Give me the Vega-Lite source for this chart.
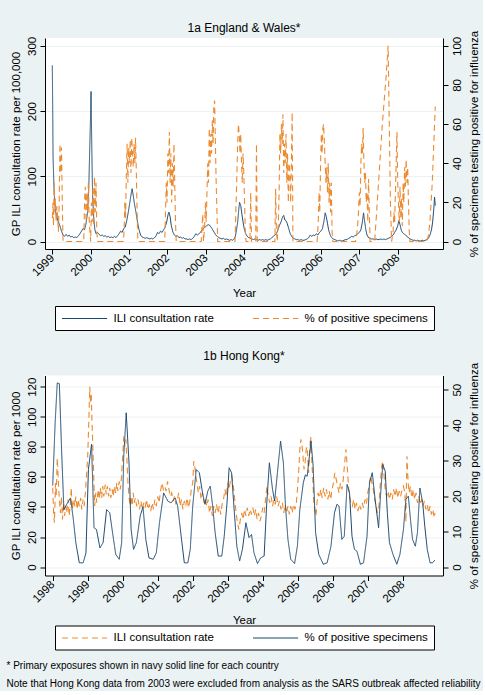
{
  "$schema": "https://vega.github.io/schema/vega-lite/v6.json",
  "background": "#eaf2f3",
  "padding": {"left": 6, "top": 21, "right": 2, "bottom": 2},
  "title": {
    "text": ["* Primary exposures shown in navy solid line for each country", "Note that Hong Kong data from 2003 were excluded from analysis as the SARS outbreak affected reliability"],
    "orient": "bottom", "anchor": "start", "frame": "bounds", "fontSize": 10, "lineHeight": 18, "offset": 11, "dx": -3.5
  },
  "datasets": {
    "ew_ili": [
      {"t":1999.00,"v":270,"s":"ili"},{"t":1999.01,"v":210,"s":"ili"},{"t":1999.02,"v":130,"s":"ili"},{"t":1999.04,"v":90,"s":"ili"},{"t":1999.06,"v":60,"s":"ili"},{"t":1999.09,"v":45,"s":"ili"},{"t":1999.12,"v":38,"s":"ili"},{"t":1999.16,"v":30,"s":"ili"},{"t":1999.2,"v":24,"s":"ili"},{"t":1999.24,"v":16,"s":"ili"},{"t":1999.28,"v":10,"s":"ili"},{"t":1999.32,"v":8,"s":"ili"},{"t":1999.36,"v":11,"s":"ili"},{"t":1999.4,"v":8,"s":"ili"},{"t":1999.44,"v":10,"s":"ili"},{"t":1999.48,"v":7,"s":"ili"},{"t":1999.52,"v":8,"s":"ili"},{"t":1999.56,"v":6,"s":"ili"},{"t":1999.6,"v":7,"s":"ili"},{"t":1999.64,"v":6,"s":"ili"},{"t":1999.68,"v":9,"s":"ili"},{"t":1999.72,"v":12,"s":"ili"},{"t":1999.76,"v":16,"s":"ili"},{"t":1999.8,"v":20,"s":"ili"},{"t":1999.84,"v":18,"s":"ili"},{"t":1999.88,"v":28,"s":"ili"},{"t":1999.92,"v":45,"s":"ili"},{"t":1999.95,"v":80,"s":"ili"},{"t":1999.97,"v":130,"s":"ili"},{"t":1999.99,"v":175,"s":"ili"},{"t":2000.01,"v":230,"s":"ili"},{"t":2000.03,"v":140,"s":"ili"},{"t":2000.05,"v":70,"s":"ili"},{"t":2000.08,"v":35,"s":"ili"},{"t":2000.11,"v":18,"s":"ili"},{"t":2000.14,"v":12,"s":"ili"},{"t":2000.18,"v":14,"s":"ili"},{"t":2000.22,"v":11,"s":"ili"},{"t":2000.26,"v":9,"s":"ili"},{"t":2000.3,"v":10,"s":"ili"},{"t":2000.34,"v":8,"s":"ili"},{"t":2000.38,"v":9,"s":"ili"},{"t":2000.42,"v":7,"s":"ili"},{"t":2000.46,"v":8,"s":"ili"},{"t":2000.5,"v":6,"s":"ili"},{"t":2000.54,"v":7,"s":"ili"},{"t":2000.58,"v":6,"s":"ili"},{"t":2000.62,"v":8,"s":"ili"},{"t":2000.66,"v":6,"s":"ili"},{"t":2000.7,"v":9,"s":"ili"},{"t":2000.74,"v":12,"s":"ili"},{"t":2000.78,"v":16,"s":"ili"},{"t":2000.82,"v":14,"s":"ili"},{"t":2000.86,"v":20,"s":"ili"},{"t":2000.9,"v":22,"s":"ili"},{"t":2000.94,"v":32,"s":"ili"},{"t":2000.98,"v":45,"s":"ili"},{"t":2001.02,"v":60,"s":"ili"},{"t":2001.06,"v":75,"s":"ili"},{"t":2001.08,"v":81,"s":"ili"},{"t":2001.11,"v":70,"s":"ili"},{"t":2001.14,"v":58,"s":"ili"},{"t":2001.18,"v":45,"s":"ili"},{"t":2001.22,"v":30,"s":"ili"},{"t":2001.26,"v":18,"s":"ili"},{"t":2001.3,"v":10,"s":"ili"},{"t":2001.34,"v":7,"s":"ili"},{"t":2001.38,"v":6,"s":"ili"},{"t":2001.42,"v":5,"s":"ili"},{"t":2001.46,"v":6,"s":"ili"},{"t":2001.5,"v":5,"s":"ili"},{"t":2001.54,"v":4,"s":"ili"},{"t":2001.58,"v":5,"s":"ili"},{"t":2001.62,"v":4,"s":"ili"},{"t":2001.66,"v":6,"s":"ili"},{"t":2001.7,"v":8,"s":"ili"},{"t":2001.74,"v":14,"s":"ili"},{"t":2001.78,"v":12,"s":"ili"},{"t":2001.82,"v":16,"s":"ili"},{"t":2001.86,"v":14,"s":"ili"},{"t":2001.9,"v":18,"s":"ili"},{"t":2001.94,"v":22,"s":"ili"},{"t":2001.98,"v":30,"s":"ili"},{"t":2002.02,"v":42,"s":"ili"},{"t":2002.04,"v":45,"s":"ili"},{"t":2002.07,"v":38,"s":"ili"},{"t":2002.1,"v":25,"s":"ili"},{"t":2002.14,"v":15,"s":"ili"},{"t":2002.18,"v":10,"s":"ili"},{"t":2002.22,"v":8,"s":"ili"},{"t":2002.26,"v":9,"s":"ili"},{"t":2002.3,"v":6,"s":"ili"},{"t":2002.34,"v":7,"s":"ili"},{"t":2002.38,"v":5,"s":"ili"},{"t":2002.42,"v":6,"s":"ili"},{"t":2002.46,"v":4,"s":"ili"},{"t":2002.5,"v":4,"s":"ili"},{"t":2002.54,"v":3,"s":"ili"},{"t":2002.58,"v":4,"s":"ili"},{"t":2002.62,"v":3,"s":"ili"},{"t":2002.66,"v":5,"s":"ili"},{"t":2002.7,"v":8,"s":"ili"},{"t":2002.74,"v":12,"s":"ili"},{"t":2002.78,"v":10,"s":"ili"},{"t":2002.82,"v":12,"s":"ili"},{"t":2002.86,"v":14,"s":"ili"},{"t":2002.9,"v":18,"s":"ili"},{"t":2002.94,"v":20,"s":"ili"},{"t":2002.98,"v":22,"s":"ili"},{"t":2003.02,"v":24,"s":"ili"},{"t":2003.06,"v":26,"s":"ili"},{"t":2003.1,"v":25,"s":"ili"},{"t":2003.14,"v":22,"s":"ili"},{"t":2003.18,"v":18,"s":"ili"},{"t":2003.22,"v":14,"s":"ili"},{"t":2003.26,"v":10,"s":"ili"},{"t":2003.3,"v":8,"s":"ili"},{"t":2003.34,"v":6,"s":"ili"},{"t":2003.38,"v":5,"s":"ili"},{"t":2003.42,"v":4,"s":"ili"},{"t":2003.46,"v":5,"s":"ili"},{"t":2003.5,"v":3,"s":"ili"},{"t":2003.54,"v":4,"s":"ili"},{"t":2003.58,"v":3,"s":"ili"},{"t":2003.62,"v":2,"s":"ili"},{"t":2003.66,"v":3,"s":"ili"},{"t":2003.7,"v":2,"s":"ili"},{"t":2003.74,"v":4,"s":"ili"},{"t":2003.77,"v":8,"s":"ili"},{"t":2003.8,"v":18,"s":"ili"},{"t":2003.83,"v":30,"s":"ili"},{"t":2003.86,"v":50,"s":"ili"},{"t":2003.88,"v":60,"s":"ili"},{"t":2003.91,"v":55,"s":"ili"},{"t":2003.94,"v":42,"s":"ili"},{"t":2003.97,"v":30,"s":"ili"},{"t":2004.0,"v":20,"s":"ili"},{"t":2004.04,"v":12,"s":"ili"},{"t":2004.08,"v":8,"s":"ili"},{"t":2004.12,"v":6,"s":"ili"},{"t":2004.16,"v":5,"s":"ili"},{"t":2004.2,"v":4,"s":"ili"},{"t":2004.24,"v":3,"s":"ili"},{"t":2004.28,"v":4,"s":"ili"},{"t":2004.32,"v":3,"s":"ili"},{"t":2004.36,"v":2,"s":"ili"},{"t":2004.4,"v":3,"s":"ili"},{"t":2004.44,"v":2,"s":"ili"},{"t":2004.48,"v":3,"s":"ili"},{"t":2004.52,"v":2,"s":"ili"},{"t":2004.56,"v":3,"s":"ili"},{"t":2004.6,"v":2,"s":"ili"},{"t":2004.64,"v":3,"s":"ili"},{"t":2004.68,"v":4,"s":"ili"},{"t":2004.72,"v":6,"s":"ili"},{"t":2004.76,"v":8,"s":"ili"},{"t":2004.8,"v":10,"s":"ili"},{"t":2004.84,"v":12,"s":"ili"},{"t":2004.88,"v":18,"s":"ili"},{"t":2004.92,"v":25,"s":"ili"},{"t":2004.96,"v":30,"s":"ili"},{"t":2005.0,"v":38,"s":"ili"},{"t":2005.03,"v":40,"s":"ili"},{"t":2005.06,"v":33,"s":"ili"},{"t":2005.09,"v":32,"s":"ili"},{"t":2005.12,"v":28,"s":"ili"},{"t":2005.16,"v":20,"s":"ili"},{"t":2005.2,"v":12,"s":"ili"},{"t":2005.24,"v":8,"s":"ili"},{"t":2005.28,"v":5,"s":"ili"},{"t":2005.32,"v":4,"s":"ili"},{"t":2005.36,"v":3,"s":"ili"},{"t":2005.4,"v":3,"s":"ili"},{"t":2005.44,"v":2,"s":"ili"},{"t":2005.48,"v":3,"s":"ili"},{"t":2005.52,"v":2,"s":"ili"},{"t":2005.56,"v":2,"s":"ili"},{"t":2005.6,"v":3,"s":"ili"},{"t":2005.64,"v":4,"s":"ili"},{"t":2005.68,"v":6,"s":"ili"},{"t":2005.72,"v":10,"s":"ili"},{"t":2005.76,"v":8,"s":"ili"},{"t":2005.8,"v":10,"s":"ili"},{"t":2005.84,"v":9,"s":"ili"},{"t":2005.88,"v":12,"s":"ili"},{"t":2005.92,"v":10,"s":"ili"},{"t":2005.96,"v":14,"s":"ili"},{"t":2006.0,"v":16,"s":"ili"},{"t":2006.04,"v":20,"s":"ili"},{"t":2006.08,"v":32,"s":"ili"},{"t":2006.11,"v":44,"s":"ili"},{"t":2006.14,"v":38,"s":"ili"},{"t":2006.17,"v":28,"s":"ili"},{"t":2006.2,"v":18,"s":"ili"},{"t":2006.24,"v":10,"s":"ili"},{"t":2006.28,"v":6,"s":"ili"},{"t":2006.32,"v":4,"s":"ili"},{"t":2006.36,"v":3,"s":"ili"},{"t":2006.4,"v":2,"s":"ili"},{"t":2006.44,"v":1,"s":"ili"},{"t":2006.48,"v":2,"s":"ili"},{"t":2006.52,"v":1,"s":"ili"},{"t":2006.56,"v":1,"s":"ili"},{"t":2006.6,"v":2,"s":"ili"},{"t":2006.64,"v":3,"s":"ili"},{"t":2006.68,"v":3,"s":"ili"},{"t":2006.72,"v":5,"s":"ili"},{"t":2006.76,"v":6,"s":"ili"},{"t":2006.8,"v":8,"s":"ili"},{"t":2006.84,"v":7,"s":"ili"},{"t":2006.88,"v":9,"s":"ili"},{"t":2006.92,"v":10,"s":"ili"},{"t":2006.96,"v":12,"s":"ili"},{"t":2007.0,"v":14,"s":"ili"},{"t":2007.04,"v":18,"s":"ili"},{"t":2007.08,"v":30,"s":"ili"},{"t":2007.11,"v":44,"s":"ili"},{"t":2007.14,"v":30,"s":"ili"},{"t":2007.17,"v":18,"s":"ili"},{"t":2007.2,"v":10,"s":"ili"},{"t":2007.24,"v":6,"s":"ili"},{"t":2007.28,"v":5,"s":"ili"},{"t":2007.32,"v":4,"s":"ili"},{"t":2007.36,"v":4,"s":"ili"},{"t":2007.4,"v":3,"s":"ili"},{"t":2007.44,"v":4,"s":"ili"},{"t":2007.48,"v":3,"s":"ili"},{"t":2007.52,"v":3,"s":"ili"},{"t":2007.56,"v":4,"s":"ili"},{"t":2007.6,"v":3,"s":"ili"},{"t":2007.64,"v":4,"s":"ili"},{"t":2007.68,"v":3,"s":"ili"},{"t":2007.72,"v":4,"s":"ili"},{"t":2007.76,"v":5,"s":"ili"},{"t":2007.8,"v":6,"s":"ili"},{"t":2007.84,"v":8,"s":"ili"},{"t":2007.88,"v":10,"s":"ili"},{"t":2007.92,"v":14,"s":"ili"},{"t":2007.96,"v":18,"s":"ili"},{"t":2008.0,"v":24,"s":"ili"},{"t":2008.03,"v":32,"s":"ili"},{"t":2008.06,"v":26,"s":"ili"},{"t":2008.09,"v":18,"s":"ili"},{"t":2008.12,"v":14,"s":"ili"},{"t":2008.16,"v":12,"s":"ili"},{"t":2008.2,"v":10,"s":"ili"},{"t":2008.24,"v":8,"s":"ili"},{"t":2008.28,"v":6,"s":"ili"},{"t":2008.32,"v":4,"s":"ili"},{"t":2008.36,"v":3,"s":"ili"},{"t":2008.4,"v":2,"s":"ili"},{"t":2008.44,"v":2,"s":"ili"},{"t":2008.48,"v":1,"s":"ili"},{"t":2008.52,"v":2,"s":"ili"},{"t":2008.56,"v":1,"s":"ili"},{"t":2008.6,"v":1,"s":"ili"},{"t":2008.64,"v":2,"s":"ili"},{"t":2008.68,"v":1,"s":"ili"},{"t":2008.72,"v":2,"s":"ili"},{"t":2008.76,"v":3,"s":"ili"},{"t":2008.8,"v":5,"s":"ili"},{"t":2008.84,"v":10,"s":"ili"},{"t":2008.88,"v":18,"s":"ili"},{"t":2008.91,"v":30,"s":"ili"},{"t":2008.94,"v":50,"s":"ili"},{"t":2008.96,"v":68,"s":"ili"},{"t":2008.98,"v":55,"s":"ili"}
    ],
    "ew_pos": [
      {"t":1999.0,"v":12,"s":"pos"},{"t":1999.02,"v":20,"s":"pos"},{"t":1999.03,"v":8,"s":"pos"},{"t":1999.05,"v":30,"s":"pos"},{"t":1999.07,"v":15,"s":"pos"},{"t":1999.08,"v":22,"s":"pos"},{"t":1999.1,"v":10,"s":"pos"},{"t":1999.12,"v":18,"s":"pos"},{"t":1999.14,"v":12,"s":"pos"},{"t":1999.16,"v":5,"s":"pos"},{"t":1999.18,"v":20,"s":"pos"},{"t":1999.2,"v":50,"s":"pos"},{"t":1999.22,"v":35,"s":"pos"},{"t":1999.24,"v":48,"s":"pos"},{"t":1999.26,"v":20,"s":"pos"},{"t":1999.28,"v":0,"s":"pos"},{"t":1999.82,"v":0,"s":"pos"},{"t":1999.84,"v":20,"s":"pos"},{"t":1999.86,"v":28,"s":"pos"},{"t":1999.88,"v":10,"s":"pos"},{"t":1999.9,"v":25,"s":"pos"},{"t":1999.92,"v":15,"s":"pos"},{"t":1999.94,"v":30,"s":"pos"},{"t":1999.96,"v":12,"s":"pos"},{"t":1999.98,"v":5,"s":"pos"},{"t":2000.0,"v":0,"s":"pos"},{"t":2000.02,"v":20,"s":"pos"},{"t":2000.04,"v":10,"s":"pos"},{"t":2000.06,"v":28,"s":"pos"},{"t":2000.08,"v":8,"s":"pos"},{"t":2000.1,"v":33,"s":"pos"},{"t":2000.12,"v":15,"s":"pos"},{"t":2000.14,"v":30,"s":"pos"},{"t":2000.16,"v":5,"s":"pos"},{"t":2000.18,"v":0,"s":"pos"},{"t":2000.85,"v":0,"s":"pos"},{"t":2000.87,"v":5,"s":"pos"},{"t":2000.89,"v":20,"s":"pos"},{"t":2000.91,"v":12,"s":"pos"},{"t":2000.93,"v":35,"s":"pos"},{"t":2000.95,"v":50,"s":"pos"},{"t":2000.97,"v":30,"s":"pos"},{"t":2000.99,"v":48,"s":"pos"},{"t":2001.01,"v":40,"s":"pos"},{"t":2001.03,"v":52,"s":"pos"},{"t":2001.05,"v":35,"s":"pos"},{"t":2001.07,"v":53,"s":"pos"},{"t":2001.09,"v":45,"s":"pos"},{"t":2001.11,"v":38,"s":"pos"},{"t":2001.13,"v":50,"s":"pos"},{"t":2001.15,"v":40,"s":"pos"},{"t":2001.17,"v":53,"s":"pos"},{"t":2001.19,"v":35,"s":"pos"},{"t":2001.21,"v":15,"s":"pos"},{"t":2001.23,"v":0,"s":"pos"},{"t":2001.93,"v":0,"s":"pos"},{"t":2001.95,"v":15,"s":"pos"},{"t":2001.97,"v":30,"s":"pos"},{"t":2001.99,"v":20,"s":"pos"},{"t":2002.01,"v":45,"s":"pos"},{"t":2002.03,"v":35,"s":"pos"},{"t":2002.05,"v":56,"s":"pos"},{"t":2002.07,"v":30,"s":"pos"},{"t":2002.09,"v":45,"s":"pos"},{"t":2002.11,"v":20,"s":"pos"},{"t":2002.13,"v":40,"s":"pos"},{"t":2002.15,"v":28,"s":"pos"},{"t":2002.17,"v":50,"s":"pos"},{"t":2002.19,"v":30,"s":"pos"},{"t":2002.21,"v":10,"s":"pos"},{"t":2002.23,"v":0,"s":"pos"},{"t":2002.88,"v":0,"s":"pos"},{"t":2002.92,"v":14,"s":"pos"},{"t":2002.94,"v":0,"s":"pos"},{"t":2002.97,"v":8,"s":"pos"},{"t":2002.99,"v":20,"s":"pos"},{"t":2003.01,"v":10,"s":"pos"},{"t":2003.03,"v":25,"s":"pos"},{"t":2003.05,"v":40,"s":"pos"},{"t":2003.07,"v":30,"s":"pos"},{"t":2003.09,"v":58,"s":"pos"},{"t":2003.11,"v":40,"s":"pos"},{"t":2003.13,"v":55,"s":"pos"},{"t":2003.15,"v":45,"s":"pos"},{"t":2003.17,"v":62,"s":"pos"},{"t":2003.19,"v":50,"s":"pos"},{"t":2003.21,"v":70,"s":"pos"},{"t":2003.23,"v":72,"s":"pos"},{"t":2003.25,"v":50,"s":"pos"},{"t":2003.27,"v":30,"s":"pos"},{"t":2003.29,"v":15,"s":"pos"},{"t":2003.31,"v":0,"s":"pos"},{"t":2003.76,"v":0,"s":"pos"},{"t":2003.79,"v":20,"s":"pos"},{"t":2003.81,"v":35,"s":"pos"},{"t":2003.83,"v":50,"s":"pos"},{"t":2003.85,"v":60,"s":"pos"},{"t":2003.87,"v":55,"s":"pos"},{"t":2003.89,"v":45,"s":"pos"},{"t":2003.91,"v":55,"s":"pos"},{"t":2003.93,"v":40,"s":"pos"},{"t":2003.95,"v":30,"s":"pos"},{"t":2003.97,"v":45,"s":"pos"},{"t":2003.99,"v":35,"s":"pos"},{"t":2004.01,"v":20,"s":"pos"},{"t":2004.03,"v":5,"s":"pos"},{"t":2004.05,"v":0,"s":"pos"},{"t":2004.15,"v":0,"s":"pos"},{"t":2004.17,"v":25,"s":"pos"},{"t":2004.19,"v":0,"s":"pos"},{"t":2004.3,"v":0,"s":"pos"},{"t":2004.32,"v":50,"s":"pos"},{"t":2004.34,"v":0,"s":"pos"},{"t":2004.8,"v":0,"s":"pos"},{"t":2004.82,"v":27,"s":"pos"},{"t":2004.84,"v":5,"s":"pos"},{"t":2004.86,"v":0,"s":"pos"},{"t":2004.89,"v":10,"s":"pos"},{"t":2004.91,"v":25,"s":"pos"},{"t":2004.93,"v":55,"s":"pos"},{"t":2004.95,"v":45,"s":"pos"},{"t":2004.97,"v":60,"s":"pos"},{"t":2004.99,"v":50,"s":"pos"},{"t":2005.01,"v":65,"s":"pos"},{"t":2005.03,"v":35,"s":"pos"},{"t":2005.05,"v":50,"s":"pos"},{"t":2005.07,"v":40,"s":"pos"},{"t":2005.09,"v":55,"s":"pos"},{"t":2005.11,"v":30,"s":"pos"},{"t":2005.13,"v":45,"s":"pos"},{"t":2005.15,"v":20,"s":"pos"},{"t":2005.17,"v":40,"s":"pos"},{"t":2005.19,"v":35,"s":"pos"},{"t":2005.21,"v":20,"s":"pos"},{"t":2005.23,"v":40,"s":"pos"},{"t":2005.25,"v":66,"s":"pos"},{"t":2005.27,"v":0,"s":"pos"},{"t":2005.9,"v":0,"s":"pos"},{"t":2005.93,"v":10,"s":"pos"},{"t":2005.95,"v":25,"s":"pos"},{"t":2005.97,"v":15,"s":"pos"},{"t":2005.99,"v":40,"s":"pos"},{"t":2006.01,"v":55,"s":"pos"},{"t":2006.03,"v":45,"s":"pos"},{"t":2006.05,"v":58,"s":"pos"},{"t":2006.07,"v":60,"s":"pos"},{"t":2006.09,"v":50,"s":"pos"},{"t":2006.11,"v":40,"s":"pos"},{"t":2006.13,"v":30,"s":"pos"},{"t":2006.15,"v":38,"s":"pos"},{"t":2006.17,"v":25,"s":"pos"},{"t":2006.19,"v":40,"s":"pos"},{"t":2006.21,"v":20,"s":"pos"},{"t":2006.23,"v":30,"s":"pos"},{"t":2006.25,"v":15,"s":"pos"},{"t":2006.27,"v":30,"s":"pos"},{"t":2006.29,"v":5,"s":"pos"},{"t":2006.31,"v":0,"s":"pos"},{"t":2006.9,"v":0,"s":"pos"},{"t":2006.94,"v":5,"s":"pos"},{"t":2006.97,"v":12,"s":"pos"},{"t":2007.0,"v":25,"s":"pos"},{"t":2007.02,"v":18,"s":"pos"},{"t":2007.04,"v":40,"s":"pos"},{"t":2007.06,"v":50,"s":"pos"},{"t":2007.08,"v":45,"s":"pos"},{"t":2007.1,"v":58,"s":"pos"},{"t":2007.12,"v":40,"s":"pos"},{"t":2007.14,"v":30,"s":"pos"},{"t":2007.16,"v":35,"s":"pos"},{"t":2007.18,"v":20,"s":"pos"},{"t":2007.2,"v":25,"s":"pos"},{"t":2007.22,"v":10,"s":"pos"},{"t":2007.24,"v":32,"s":"pos"},{"t":2007.26,"v":15,"s":"pos"},{"t":2007.28,"v":0,"s":"pos"},{"t":2007.4,"v":0,"s":"pos"},{"t":2007.5,"v":30,"s":"pos"},{"t":2007.6,"v":60,"s":"pos"},{"t":2007.7,"v":85,"s":"pos"},{"t":2007.75,"v":100,"s":"pos"},{"t":2007.78,"v":60,"s":"pos"},{"t":2007.81,"v":20,"s":"pos"},{"t":2007.84,"v":0,"s":"pos"},{"t":2007.88,"v":5,"s":"pos"},{"t":2007.9,"v":15,"s":"pos"},{"t":2007.92,"v":10,"s":"pos"},{"t":2007.94,"v":25,"s":"pos"},{"t":2007.96,"v":40,"s":"pos"},{"t":2007.98,"v":56,"s":"pos"},{"t":2008.0,"v":30,"s":"pos"},{"t":2008.02,"v":20,"s":"pos"},{"t":2008.04,"v":10,"s":"pos"},{"t":2008.06,"v":28,"s":"pos"},{"t":2008.08,"v":12,"s":"pos"},{"t":2008.1,"v":22,"s":"pos"},{"t":2008.12,"v":8,"s":"pos"},{"t":2008.14,"v":30,"s":"pos"},{"t":2008.16,"v":20,"s":"pos"},{"t":2008.18,"v":38,"s":"pos"},{"t":2008.2,"v":28,"s":"pos"},{"t":2008.22,"v":42,"s":"pos"},{"t":2008.24,"v":30,"s":"pos"},{"t":2008.26,"v":38,"s":"pos"},{"t":2008.28,"v":20,"s":"pos"},{"t":2008.3,"v":5,"s":"pos"},{"t":2008.32,"v":0,"s":"pos"},{"t":2008.75,"v":0,"s":"pos"},{"t":2008.8,"v":3,"s":"pos"},{"t":2008.84,"v":10,"s":"pos"},{"t":2008.87,"v":20,"s":"pos"},{"t":2008.9,"v":30,"s":"pos"},{"t":2008.93,"v":45,"s":"pos"},{"t":2008.96,"v":60,"s":"pos"},{"t":2008.98,"v":69,"s":"pos"}
    ],
    "hk_ili": [
      {"t":1998.0,"v":52.8,"s":"ili"},{"t":1998.03,"v":34,"s":"ili"},{"t":1998.05,"v":29.5,"s":"ili"},{"t":1998.08,"v":56,"s":"ili"},{"t":1998.1,"v":47,"s":"ili"},{"t":1998.13,"v":72.7,"s":"ili"},{"t":1998.16,"v":58,"s":"ili"},{"t":1998.19,"v":45,"s":"ili"},{"t":1998.22,"v":36,"s":"ili"},{"t":1998.25,"v":47,"s":"ili"},{"t":1998.28,"v":31.7,"s":"ili"},{"t":1998.31,"v":42.8,"s":"ili"},{"t":1998.34,"v":34,"s":"ili"},{"t":1998.37,"v":40.6,"s":"ili"},{"t":1998.4,"v":36,"s":"ili"},{"t":1998.44,"v":45,"s":"ili"},{"t":1998.47,"v":34,"s":"ili"},{"t":1998.5,"v":40.6,"s":"ili"},{"t":1998.53,"v":52.8,"s":"ili"},{"t":1998.56,"v":38.4,"s":"ili"},{"t":1998.6,"v":45,"s":"ili"},{"t":1998.63,"v":40.6,"s":"ili"},{"t":1998.66,"v":47,"s":"ili"},{"t":1998.7,"v":38.4,"s":"ili"},{"t":1998.73,"v":45,"s":"ili"},{"t":1998.76,"v":40.6,"s":"ili"},{"t":1998.8,"v":46,"s":"ili"},{"t":1998.83,"v":38.4,"s":"ili"},{"t":1998.87,"v":45,"s":"ili"},{"t":1998.9,"v":40.6,"s":"ili"},{"t":1998.94,"v":51.7,"s":"ili"},{"t":1998.97,"v":62.7,"s":"ili"},{"t":1999.0,"v":73.8,"s":"ili"},{"t":1999.03,"v":96,"s":"ili"},{"t":1999.06,"v":120,"s":"ili"},{"t":1999.08,"v":109,"s":"ili"},{"t":1999.1,"v":116,"s":"ili"},{"t":1999.12,"v":98,"s":"ili"},{"t":1999.15,"v":78,"s":"ili"},{"t":1999.18,"v":54,"s":"ili"},{"t":1999.2,"v":40.6,"s":"ili"},{"t":1999.23,"v":49.4,"s":"ili"},{"t":1999.26,"v":42.8,"s":"ili"},{"t":1999.3,"v":51.7,"s":"ili"},{"t":1999.33,"v":45,"s":"ili"},{"t":1999.36,"v":52.8,"s":"ili"},{"t":1999.4,"v":46,"s":"ili"},{"t":1999.43,"v":53.9,"s":"ili"},{"t":1999.46,"v":47,"s":"ili"},{"t":1999.5,"v":55,"s":"ili"},{"t":1999.53,"v":48.3,"s":"ili"},{"t":1999.56,"v":53.9,"s":"ili"},{"t":1999.6,"v":47,"s":"ili"},{"t":1999.63,"v":52.8,"s":"ili"},{"t":1999.66,"v":46,"s":"ili"},{"t":1999.7,"v":51.7,"s":"ili"},{"t":1999.73,"v":47,"s":"ili"},{"t":1999.76,"v":53.9,"s":"ili"},{"t":1999.8,"v":49.4,"s":"ili"},{"t":1999.83,"v":56,"s":"ili"},{"t":1999.86,"v":50.6,"s":"ili"},{"t":1999.9,"v":57,"s":"ili"},{"t":1999.93,"v":51.7,"s":"ili"},{"t":1999.96,"v":58,"s":"ili"},{"t":2000.0,"v":73.8,"s":"ili"},{"t":2000.03,"v":87,"s":"ili"},{"t":2000.06,"v":80.5,"s":"ili"},{"t":2000.09,"v":85,"s":"ili"},{"t":2000.12,"v":71.6,"s":"ili"},{"t":2000.15,"v":56,"s":"ili"},{"t":2000.18,"v":47,"s":"ili"},{"t":2000.21,"v":40.6,"s":"ili"},{"t":2000.24,"v":47,"s":"ili"},{"t":2000.27,"v":40.6,"s":"ili"},{"t":2000.3,"v":49.4,"s":"ili"},{"t":2000.33,"v":42.8,"s":"ili"},{"t":2000.36,"v":46,"s":"ili"},{"t":2000.4,"v":40.6,"s":"ili"},{"t":2000.44,"v":45,"s":"ili"},{"t":2000.48,"v":38.4,"s":"ili"},{"t":2000.52,"v":44,"s":"ili"},{"t":2000.56,"v":38.4,"s":"ili"},{"t":2000.6,"v":42.8,"s":"ili"},{"t":2000.64,"v":39.5,"s":"ili"},{"t":2000.68,"v":45,"s":"ili"},{"t":2000.72,"v":38.4,"s":"ili"},{"t":2000.76,"v":41.7,"s":"ili"},{"t":2000.8,"v":37.3,"s":"ili"},{"t":2000.84,"v":42.8,"s":"ili"},{"t":2000.88,"v":38.4,"s":"ili"},{"t":2000.92,"v":45,"s":"ili"},{"t":2000.96,"v":40.6,"s":"ili"},{"t":2001.0,"v":47,"s":"ili"},{"t":2001.04,"v":42.8,"s":"ili"},{"t":2001.08,"v":50.6,"s":"ili"},{"t":2001.12,"v":56,"s":"ili"},{"t":2001.16,"v":51.7,"s":"ili"},{"t":2001.2,"v":53.9,"s":"ili"},{"t":2001.24,"v":50.6,"s":"ili"},{"t":2001.28,"v":57,"s":"ili"},{"t":2001.32,"v":51.7,"s":"ili"},{"t":2001.36,"v":47,"s":"ili"},{"t":2001.4,"v":49.4,"s":"ili"},{"t":2001.44,"v":44,"s":"ili"},{"t":2001.48,"v":47,"s":"ili"},{"t":2001.52,"v":41.7,"s":"ili"},{"t":2001.56,"v":45,"s":"ili"},{"t":2001.6,"v":49.4,"s":"ili"},{"t":2001.64,"v":40.6,"s":"ili"},{"t":2001.68,"v":45,"s":"ili"},{"t":2001.72,"v":38.4,"s":"ili"},{"t":2001.76,"v":44,"s":"ili"},{"t":2001.8,"v":40.6,"s":"ili"},{"t":2001.84,"v":46,"s":"ili"},{"t":2001.88,"v":39.5,"s":"ili"},{"t":2001.92,"v":44,"s":"ili"},{"t":2001.96,"v":51.7,"s":"ili"},{"t":2002.0,"v":56,"s":"ili"},{"t":2002.03,"v":70.5,"s":"ili"},{"t":2002.06,"v":67,"s":"ili"},{"t":2002.09,"v":60.5,"s":"ili"},{"t":2002.12,"v":56,"s":"ili"},{"t":2002.16,"v":49.4,"s":"ili"},{"t":2002.2,"v":53.9,"s":"ili"},{"t":2002.24,"v":45,"s":"ili"},{"t":2002.28,"v":49.4,"s":"ili"},{"t":2002.32,"v":42.8,"s":"ili"},{"t":2002.36,"v":46,"s":"ili"},{"t":2002.4,"v":40.6,"s":"ili"},{"t":2002.44,"v":45,"s":"ili"},{"t":2002.48,"v":36,"s":"ili"},{"t":2002.52,"v":40.6,"s":"ili"},{"t":2002.56,"v":34,"s":"ili"},{"t":2002.6,"v":40.6,"s":"ili"},{"t":2002.64,"v":36,"s":"ili"},{"t":2002.68,"v":41.7,"s":"ili"},{"t":2002.72,"v":36,"s":"ili"},{"t":2002.76,"v":40.6,"s":"ili"},{"t":2002.8,"v":35,"s":"ili"},{"t":2002.84,"v":41.7,"s":"ili"},{"t":2002.88,"v":45,"s":"ili"},{"t":2002.92,"v":51.7,"s":"ili"},{"t":2002.96,"v":47,"s":"ili"},{"t":2003.0,"v":56,"s":"ili"},{"t":2003.04,"v":51.7,"s":"ili"},{"t":2003.08,"v":58.3,"s":"ili"},{"t":2003.12,"v":60.5,"s":"ili"},{"t":2003.16,"v":53.9,"s":"ili"},{"t":2003.2,"v":45,"s":"ili"},{"t":2003.24,"v":36,"s":"ili"},{"t":2003.28,"v":29.5,"s":"ili"},{"t":2003.32,"v":25,"s":"ili"},{"t":2003.36,"v":31.7,"s":"ili"},{"t":2003.4,"v":36,"s":"ili"},{"t":2003.44,"v":31.7,"s":"ili"},{"t":2003.48,"v":38.4,"s":"ili"},{"t":2003.52,"v":34,"s":"ili"},{"t":2003.56,"v":39.5,"s":"ili"},{"t":2003.6,"v":34,"s":"ili"},{"t":2003.64,"v":38.4,"s":"ili"},{"t":2003.68,"v":35,"s":"ili"},{"t":2003.72,"v":39.5,"s":"ili"},{"t":2003.76,"v":34,"s":"ili"},{"t":2003.8,"v":38.4,"s":"ili"},{"t":2003.84,"v":31.7,"s":"ili"},{"t":2003.88,"v":36,"s":"ili"},{"t":2003.92,"v":30.6,"s":"ili"},{"t":2003.96,"v":34,"s":"ili"},{"t":2004.0,"v":39.5,"s":"ili"},{"t":2004.04,"v":36,"s":"ili"},{"t":2004.08,"v":45,"s":"ili"},{"t":2004.12,"v":53.9,"s":"ili"},{"t":2004.16,"v":47,"s":"ili"},{"t":2004.2,"v":42.8,"s":"ili"},{"t":2004.24,"v":47,"s":"ili"},{"t":2004.28,"v":40.6,"s":"ili"},{"t":2004.32,"v":45,"s":"ili"},{"t":2004.36,"v":41.7,"s":"ili"},{"t":2004.4,"v":47,"s":"ili"},{"t":2004.44,"v":40.6,"s":"ili"},{"t":2004.48,"v":44,"s":"ili"},{"t":2004.52,"v":38.4,"s":"ili"},{"t":2004.56,"v":42.8,"s":"ili"},{"t":2004.6,"v":36,"s":"ili"},{"t":2004.64,"v":41.7,"s":"ili"},{"t":2004.68,"v":36,"s":"ili"},{"t":2004.72,"v":40.6,"s":"ili"},{"t":2004.76,"v":35,"s":"ili"},{"t":2004.8,"v":40.6,"s":"ili"},{"t":2004.84,"v":36,"s":"ili"},{"t":2004.88,"v":41.7,"s":"ili"},{"t":2004.92,"v":38.4,"s":"ili"},{"t":2004.96,"v":42.8,"s":"ili"},{"t":2005.0,"v":53.9,"s":"ili"},{"t":2005.03,"v":65,"s":"ili"},{"t":2005.06,"v":78.3,"s":"ili"},{"t":2005.09,"v":85,"s":"ili"},{"t":2005.12,"v":81.6,"s":"ili"},{"t":2005.15,"v":73.8,"s":"ili"},{"t":2005.18,"v":65,"s":"ili"},{"t":2005.21,"v":69.4,"s":"ili"},{"t":2005.24,"v":78.3,"s":"ili"},{"t":2005.27,"v":80,"s":"ili"},{"t":2005.31,"v":62.7,"s":"ili"},{"t":2005.35,"v":80.5,"s":"ili"},{"t":2005.37,"v":87,"s":"ili"},{"t":2005.4,"v":71.6,"s":"ili"},{"t":2005.43,"v":58.3,"s":"ili"},{"t":2005.46,"v":42.8,"s":"ili"},{"t":2005.49,"v":38.4,"s":"ili"},{"t":2005.52,"v":34,"s":"ili"},{"t":2005.55,"v":42.8,"s":"ili"},{"t":2005.58,"v":49.4,"s":"ili"},{"t":2005.62,"v":46,"s":"ili"},{"t":2005.66,"v":51.7,"s":"ili"},{"t":2005.7,"v":46,"s":"ili"},{"t":2005.74,"v":52.8,"s":"ili"},{"t":2005.78,"v":47,"s":"ili"},{"t":2005.82,"v":51.7,"s":"ili"},{"t":2005.86,"v":45,"s":"ili"},{"t":2005.9,"v":50.6,"s":"ili"},{"t":2005.94,"v":45,"s":"ili"},{"t":2005.98,"v":51.7,"s":"ili"},{"t":2006.02,"v":56,"s":"ili"},{"t":2006.06,"v":62.7,"s":"ili"},{"t":2006.1,"v":58.3,"s":"ili"},{"t":2006.14,"v":53.9,"s":"ili"},{"t":2006.18,"v":49.4,"s":"ili"},{"t":2006.22,"v":56,"s":"ili"},{"t":2006.26,"v":51.7,"s":"ili"},{"t":2006.3,"v":58.3,"s":"ili"},{"t":2006.34,"v":69.4,"s":"ili"},{"t":2006.38,"v":78.3,"s":"ili"},{"t":2006.42,"v":65,"s":"ili"},{"t":2006.45,"v":53.9,"s":"ili"},{"t":2006.48,"v":47,"s":"ili"},{"t":2006.52,"v":42.8,"s":"ili"},{"t":2006.56,"v":40.6,"s":"ili"},{"t":2006.6,"v":45,"s":"ili"},{"t":2006.64,"v":38.4,"s":"ili"},{"t":2006.68,"v":42.8,"s":"ili"},{"t":2006.72,"v":37.3,"s":"ili"},{"t":2006.76,"v":41.7,"s":"ili"},{"t":2006.8,"v":38.4,"s":"ili"},{"t":2006.84,"v":42.8,"s":"ili"},{"t":2006.88,"v":39.5,"s":"ili"},{"t":2006.92,"v":45,"s":"ili"},{"t":2006.96,"v":41.7,"s":"ili"},{"t":2007.0,"v":49.4,"s":"ili"},{"t":2007.04,"v":53.9,"s":"ili"},{"t":2007.08,"v":60.5,"s":"ili"},{"t":2007.12,"v":56,"s":"ili"},{"t":2007.16,"v":51.7,"s":"ili"},{"t":2007.2,"v":45,"s":"ili"},{"t":2007.24,"v":40.6,"s":"ili"},{"t":2007.28,"v":36,"s":"ili"},{"t":2007.32,"v":40.6,"s":"ili"},{"t":2007.36,"v":56,"s":"ili"},{"t":2007.4,"v":67.2,"s":"ili"},{"t":2007.43,"v":70.5,"s":"ili"},{"t":2007.46,"v":62.7,"s":"ili"},{"t":2007.5,"v":51.7,"s":"ili"},{"t":2007.54,"v":47,"s":"ili"},{"t":2007.58,"v":50.6,"s":"ili"},{"t":2007.62,"v":45,"s":"ili"},{"t":2007.66,"v":49.4,"s":"ili"},{"t":2007.7,"v":45,"s":"ili"},{"t":2007.74,"v":51.7,"s":"ili"},{"t":2007.78,"v":47,"s":"ili"},{"t":2007.82,"v":52.8,"s":"ili"},{"t":2007.86,"v":46,"s":"ili"},{"t":2007.9,"v":50.6,"s":"ili"},{"t":2007.94,"v":47,"s":"ili"},{"t":2007.98,"v":51.7,"s":"ili"},{"t":2008.02,"v":53.9,"s":"ili"},{"t":2008.06,"v":49.4,"s":"ili"},{"t":2008.09,"v":30,"s":"ili"},{"t":2008.12,"v":73.8,"s":"ili"},{"t":2008.15,"v":58.3,"s":"ili"},{"t":2008.18,"v":49.4,"s":"ili"},{"t":2008.22,"v":53.9,"s":"ili"},{"t":2008.26,"v":46,"s":"ili"},{"t":2008.3,"v":51.7,"s":"ili"},{"t":2008.34,"v":45,"s":"ili"},{"t":2008.38,"v":49.4,"s":"ili"},{"t":2008.42,"v":42.8,"s":"ili"},{"t":2008.46,"v":47,"s":"ili"},{"t":2008.5,"v":41.7,"s":"ili"},{"t":2008.54,"v":45,"s":"ili"},{"t":2008.58,"v":40.6,"s":"ili"},{"t":2008.62,"v":44,"s":"ili"},{"t":2008.66,"v":38.4,"s":"ili"},{"t":2008.7,"v":41.7,"s":"ili"},{"t":2008.74,"v":36,"s":"ili"},{"t":2008.78,"v":40.6,"s":"ili"},{"t":2008.82,"v":35,"s":"ili"},{"t":2008.86,"v":38.4,"s":"ili"},{"t":2008.9,"v":32.8,"s":"ili"},{"t":2008.92,"v":36,"s":"ili"}
    ],
    "hk_pos": [
      {"t":1998.0,"v":23,"s":"pos"},{"t":1998.07,"v":40.7,"s":"pos"},{"t":1998.13,"v":51.9,"s":"pos"},{"t":1998.19,"v":51.7,"s":"pos"},{"t":1998.26,"v":31.3,"s":"pos"},{"t":1998.32,"v":16.2,"s":"pos"},{"t":1998.4,"v":17.7,"s":"pos"},{"t":1998.51,"v":19.5,"s":"pos"},{"t":1998.59,"v":13.4,"s":"pos"},{"t":1998.66,"v":6.9,"s":"pos"},{"t":1998.76,"v":1.2,"s":"pos"},{"t":1998.87,"v":1.2,"s":"pos"},{"t":1998.95,"v":4,"s":"pos"},{"t":1999.02,"v":27.5,"s":"pos"},{"t":1999.11,"v":34.6,"s":"pos"},{"t":1999.18,"v":11.1,"s":"pos"},{"t":1999.25,"v":10.6,"s":"pos"},{"t":1999.35,"v":5.4,"s":"pos"},{"t":1999.44,"v":6.9,"s":"pos"},{"t":1999.54,"v":16.2,"s":"pos"},{"t":1999.63,"v":15.3,"s":"pos"},{"t":1999.71,"v":9.7,"s":"pos"},{"t":1999.8,"v":3.6,"s":"pos"},{"t":1999.9,"v":2.2,"s":"pos"},{"t":1999.97,"v":6.9,"s":"pos"},{"t":2000.03,"v":31.3,"s":"pos"},{"t":2000.1,"v":43.5,"s":"pos"},{"t":2000.18,"v":29.4,"s":"pos"},{"t":2000.24,"v":10.6,"s":"pos"},{"t":2000.31,"v":5,"s":"pos"},{"t":2000.39,"v":6.9,"s":"pos"},{"t":2000.5,"v":14.4,"s":"pos"},{"t":2000.58,"v":17,"s":"pos"},{"t":2000.66,"v":7.8,"s":"pos"},{"t":2000.75,"v":2.6,"s":"pos"},{"t":2000.87,"v":2.2,"s":"pos"},{"t":2000.96,"v":4,"s":"pos"},{"t":2001.05,"v":12.5,"s":"pos"},{"t":2001.17,"v":20.9,"s":"pos"},{"t":2001.29,"v":18.6,"s":"pos"},{"t":2001.38,"v":18.1,"s":"pos"},{"t":2001.5,"v":19.5,"s":"pos"},{"t":2001.57,"v":17.2,"s":"pos"},{"t":2001.62,"v":13,"s":"pos"},{"t":2001.67,"v":8.7,"s":"pos"},{"t":2001.76,"v":1.2,"s":"pos"},{"t":2001.86,"v":1.2,"s":"pos"},{"t":2001.93,"v":5,"s":"pos"},{"t":2002.0,"v":17.2,"s":"pos"},{"t":2002.1,"v":27.5,"s":"pos"},{"t":2002.19,"v":26.6,"s":"pos"},{"t":2002.28,"v":20.9,"s":"pos"},{"t":2002.35,"v":17.7,"s":"pos"},{"t":2002.43,"v":21.4,"s":"pos"},{"t":2002.5,"v":22.8,"s":"pos"},{"t":2002.57,"v":17.2,"s":"pos"},{"t":2002.64,"v":9.7,"s":"pos"},{"t":2002.73,"v":3.1,"s":"pos"},{"t":2002.83,"v":3.1,"s":"pos"},{"t":2002.9,"v":8.7,"s":"pos"},{"t":2002.98,"v":18.1,"s":"pos"},{"t":2003.04,"v":28,"s":"pos"},{"t":2003.11,"v":26.6,"s":"pos"},{"t":2003.19,"v":15.3,"s":"pos"},{"t":2003.26,"v":5.9,"s":"pos"},{"t":2003.34,"v":1.7,"s":"pos"},{"t":2003.42,"v":5,"s":"pos"},{"t":2003.52,"v":12.5,"s":"pos"},{"t":2003.61,"v":8.3,"s":"pos"},{"t":2003.68,"v":9.2,"s":"pos"},{"t":2003.75,"v":4,"s":"pos"},{"t":2003.85,"v":1,"s":"pos"},{"t":2003.94,"v":2.6,"s":"pos"},{"t":2004.04,"v":3.1,"s":"pos"},{"t":2004.11,"v":17.2,"s":"pos"},{"t":2004.19,"v":29.4,"s":"pos"},{"t":2004.28,"v":21.9,"s":"pos"},{"t":2004.34,"v":18.6,"s":"pos"},{"t":2004.42,"v":26.6,"s":"pos"},{"t":2004.51,"v":35.5,"s":"pos"},{"t":2004.59,"v":29.4,"s":"pos"},{"t":2004.65,"v":17.2,"s":"pos"},{"t":2004.72,"v":7.8,"s":"pos"},{"t":2004.8,"v":2.2,"s":"pos"},{"t":2004.91,"v":1,"s":"pos"},{"t":2004.99,"v":5.9,"s":"pos"},{"t":2005.06,"v":16.2,"s":"pos"},{"t":2005.16,"v":23.8,"s":"pos"},{"t":2005.22,"v":26,"s":"pos"},{"t":2005.27,"v":25.6,"s":"pos"},{"t":2005.33,"v":31,"s":"pos"},{"t":2005.38,"v":35.5,"s":"pos"},{"t":2005.44,"v":28.5,"s":"pos"},{"t":2005.51,"v":9.7,"s":"pos"},{"t":2005.6,"v":3.6,"s":"pos"},{"t":2005.73,"v":0.8,"s":"pos"},{"t":2005.84,"v":1.2,"s":"pos"},{"t":2005.95,"v":5.9,"s":"pos"},{"t":2006.05,"v":15.3,"s":"pos"},{"t":2006.12,"v":17.7,"s":"pos"},{"t":2006.18,"v":17.2,"s":"pos"},{"t":2006.26,"v":7.8,"s":"pos"},{"t":2006.33,"v":8.7,"s":"pos"},{"t":2006.41,"v":23.3,"s":"pos"},{"t":2006.48,"v":20.9,"s":"pos"},{"t":2006.55,"v":8.7,"s":"pos"},{"t":2006.62,"v":5,"s":"pos"},{"t":2006.69,"v":4.5,"s":"pos"},{"t":2006.79,"v":0.8,"s":"pos"},{"t":2006.88,"v":1.2,"s":"pos"},{"t":2006.98,"v":8.7,"s":"pos"},{"t":2007.05,"v":23.8,"s":"pos"},{"t":2007.13,"v":26.6,"s":"pos"},{"t":2007.21,"v":19.1,"s":"pos"},{"t":2007.31,"v":11.1,"s":"pos"},{"t":2007.37,"v":20.9,"s":"pos"},{"t":2007.43,"v":28.9,"s":"pos"},{"t":2007.5,"v":27,"s":"pos"},{"t":2007.56,"v":15.3,"s":"pos"},{"t":2007.62,"v":6.9,"s":"pos"},{"t":2007.72,"v":3.6,"s":"pos"},{"t":2007.83,"v":0.8,"s":"pos"},{"t":2007.92,"v":3.6,"s":"pos"},{"t":2008.02,"v":10.6,"s":"pos"},{"t":2008.09,"v":19.1,"s":"pos"},{"t":2008.16,"v":20,"s":"pos"},{"t":2008.23,"v":12.5,"s":"pos"},{"t":2008.28,"v":7.8,"s":"pos"},{"t":2008.36,"v":5.9,"s":"pos"},{"t":2008.42,"v":9.7,"s":"pos"},{"t":2008.49,"v":22.3,"s":"pos"},{"t":2008.57,"v":18.1,"s":"pos"},{"t":2008.63,"v":11.5,"s":"pos"},{"t":2008.7,"v":5,"s":"pos"},{"t":2008.78,"v":1.2,"s":"pos"},{"t":2008.85,"v":1.2,"s":"pos"},{"t":2008.92,"v":2,"s":"pos"}
    ]
  },
  "vconcat": [
    {
      "title": {"text": "1a England & Wales*", "offset": -4.5, "frame": "group"},
      "width": 398,
      "height": 211,
      "layer": [
        {
          "data": {"name": "ew_ili"},
          "mark": {"type": "line", "strokeWidth": 1},
          "encoding": {
            "x": {"field": "t", "type": "quantitative", "scale": {"domain": [1998.81, 2009.18], "nice": false, "zero": false},
                  "axis": {"title": "Year", "values": [1999,2000,2001,2002,2003,2004,2005,2006,2007,2008], "format": "d", "labelAngle": -45, "labelAlign": "right", "labelBaseline": "middle", "grid": false, "titlePadding": 10, "labelOverlap": false}},
            "y": {"field": "v", "type": "quantitative", "scale": {"domain": [-11.4, 312], "nice": false, "zero": false},
                  "axis": {"orient": "left", "title": "GP ILI consultation rate per 100,000", "values": [0,100,200,300], "grid": true, "labelAngle": 270, "labelAlign": "center", "labelBaseline": "bottom", "labelPadding": 3, "titlePadding": 5}},
            "color": {"field": "s", "type": "nominal", "scale": {"domain": ["ili","pos"], "range": ["#1a476f", "#ec8a30"]},
                      "legend": {"title": null, "offset": 5.5, "labelExpr": "datum.label == 'ili' ? 'ILI consultation rate' : '% of positive specimens'"}},
            "strokeDash": {"field": "s", "type": "nominal", "scale": {"domain": ["ili","pos"], "range": [[1,0],[6,4]]},
                      "legend": {"title": null, "offset": 5.5, "labelExpr": "datum.label == 'ili' ? 'ILI consultation rate' : '% of positive specimens'"}}
          }
        },
        {
          "data": {"name": "ew_pos"},
          "mark": {"type": "line", "strokeWidth": 1.1},
          "encoding": {
            "x": {"field": "t", "type": "quantitative", "axis": {"title": "Year", "values": [1999,2000,2001,2002,2003,2004,2005,2006,2007,2008], "format": "d", "labelAngle": -45, "labelAlign": "right", "labelBaseline": "middle", "grid": false, "titlePadding": 10, "labelOverlap": false}},
            "y": {"field": "v", "type": "quantitative", "scale": {"domain": [-3.8, 104], "nice": false, "zero": false},
                  "axis": {"orient": "right", "title": "% of specimens testing positive for influenza", "values": [0,20,40,60,80,100], "grid": false, "labelAngle": 270, "labelAlign": "center", "labelBaseline": "top", "labelPadding": 3, "titleAngle": 270, "titleBaseline": "top", "titlePadding": 6}},
            "color": {"field": "s", "type": "nominal", "legend": {"title": null, "offset": 5.5, "labelExpr": "datum.label == 'ili' ? 'ILI consultation rate' : '% of positive specimens'"}},
            "strokeDash": {"field": "s", "type": "nominal", "legend": {"title": null, "offset": 5.5, "labelExpr": "datum.label == 'ili' ? 'ILI consultation rate' : '% of positive specimens'"}}
          }
        }
      ],
      "resolve": {"scale": {"y": "independent"}, "axis": {"y": "independent"}}
    },
    {
      "title": {"text": "1b Hong Kong*", "offset": -1, "frame": "group"},
      "width": 398,
      "height": 200,
      "layer": [
        {
          "data": {"name": "hk_ili"},
          "mark": {"type": "line", "strokeWidth": 1.1},
          "encoding": {
            "x": {"field": "t", "type": "quantitative", "scale": {"domain": [1997.78, 2009.15], "nice": false, "zero": false},
                  "axis": {"title": "Year", "values": [1998,1999,2000,2001,2002,2003,2004,2005,2006,2007,2008], "format": "d", "labelAngle": -45, "labelAlign": "right", "labelBaseline": "middle", "grid": false, "titlePadding": 10, "labelOverlap": false}},
            "y": {"field": "v", "type": "quantitative", "scale": {"domain": [-5.6, 127.5], "nice": false, "zero": false},
                  "axis": {"orient": "left", "title": "GP ILI consultation rate per 1000", "values": [0,20,40,60,80,100,120], "grid": true, "labelAngle": 270, "labelAlign": "center", "labelBaseline": "bottom", "labelPadding": 3, "titlePadding": 5}},
            "color": {"field": "s", "type": "nominal", "scale": {"domain": ["ili","pos"], "range": ["#ec8a30", "#1a476f"]},
                      "legend": {"title": null, "offset": -1, "labelExpr": "datum.label == 'ili' ? 'ILI consultation rate' : '% of positive specimens'"}},
            "strokeDash": {"field": "s", "type": "nominal", "scale": {"domain": ["ili","pos"], "range": [[6,4],[1,0]]},
                      "legend": {"title": null, "offset": -1, "labelExpr": "datum.label == 'ili' ? 'ILI consultation rate' : '% of positive specimens'"}}
          }
        },
        {
          "data": {"name": "hk_pos"},
          "mark": {"type": "line", "strokeWidth": 1},
          "encoding": {
            "x": {"field": "t", "type": "quantitative", "axis": {"title": "Year", "values": [1998,1999,2000,2001,2002,2003,2004,2005,2006,2007,2008], "format": "d", "labelAngle": -45, "labelAlign": "right", "labelBaseline": "middle", "grid": false, "titlePadding": 10, "labelOverlap": false}},
            "y": {"field": "v", "type": "quantitative", "scale": {"domain": [-2.37, 54], "nice": false, "zero": false},
                  "axis": {"orient": "right", "title": "% of specimens testing positive for influenza", "values": [0,10,20,30,40,50], "grid": false, "labelAngle": 270, "labelAlign": "center", "labelBaseline": "top", "labelPadding": 3, "titleAngle": 270, "titleBaseline": "top", "titlePadding": 6}},
            "color": {"field": "s", "type": "nominal", "legend": {"title": null, "offset": -1, "labelExpr": "datum.label == 'ili' ? 'ILI consultation rate' : '% of positive specimens'"}},
            "strokeDash": {"field": "s", "type": "nominal", "legend": {"title": null, "offset": -1, "labelExpr": "datum.label == 'ili' ? 'ILI consultation rate' : '% of positive specimens'"}}
          }
        }
      ],
      "resolve": {"scale": {"y": "independent"}, "axis": {"y": "independent"}}
    }
  ],
  "spacing": 18.5,
  "resolve": {"scale": {"color": "independent", "strokeDash": "independent", "x": "independent"}, "legend": {"color": "independent", "strokeDash": "independent"}},
  "config": {
    "font": "Liberation Sans",
    "view": {"stroke": null, "fill": "white"},
    "title": {"font": "Liberation Sans", "fontSize": 12, "fontWeight": "normal", "color": "black"},
    "axis": {"domainColor": "black", "tickColor": "black", "labelColor": "black", "titleColor": "black", "labelFont": "Liberation Sans", "titleFont": "Liberation Sans", "labelFontSize": 11.5, "titleFontSize": 11.5, "titleFontWeight": "normal", "tickSize": 5, "domainWidth": 1, "tickWidth": 1, "gridColor": "#eaf2f3", "gridWidth": 1, "labelPadding": 2, "labelOverlap": false, "labelFlush": false, "labelBound": false},
    "legend": {
      "layout": {"bottom": {"anchor": "middle"}},
      "orient": "bottom", "direction": "horizontal",
      "symbolType": "M0,0H8.2", "symbolSize": 121, "symbolStrokeWidth": 1.2, "symbolOffset": -5.5, "symbolFillColor": "transparent",
      "labelFont": "Liberation Sans", "labelFontSize": 11.5, "labelColor": "black", "labelOffset": 45, "labelLimit": 300,
      "columnPadding": 36, "padding": 6, "strokeColor": "black", "fillColor": "white", "cornerRadius": 0
    }
  }
}
